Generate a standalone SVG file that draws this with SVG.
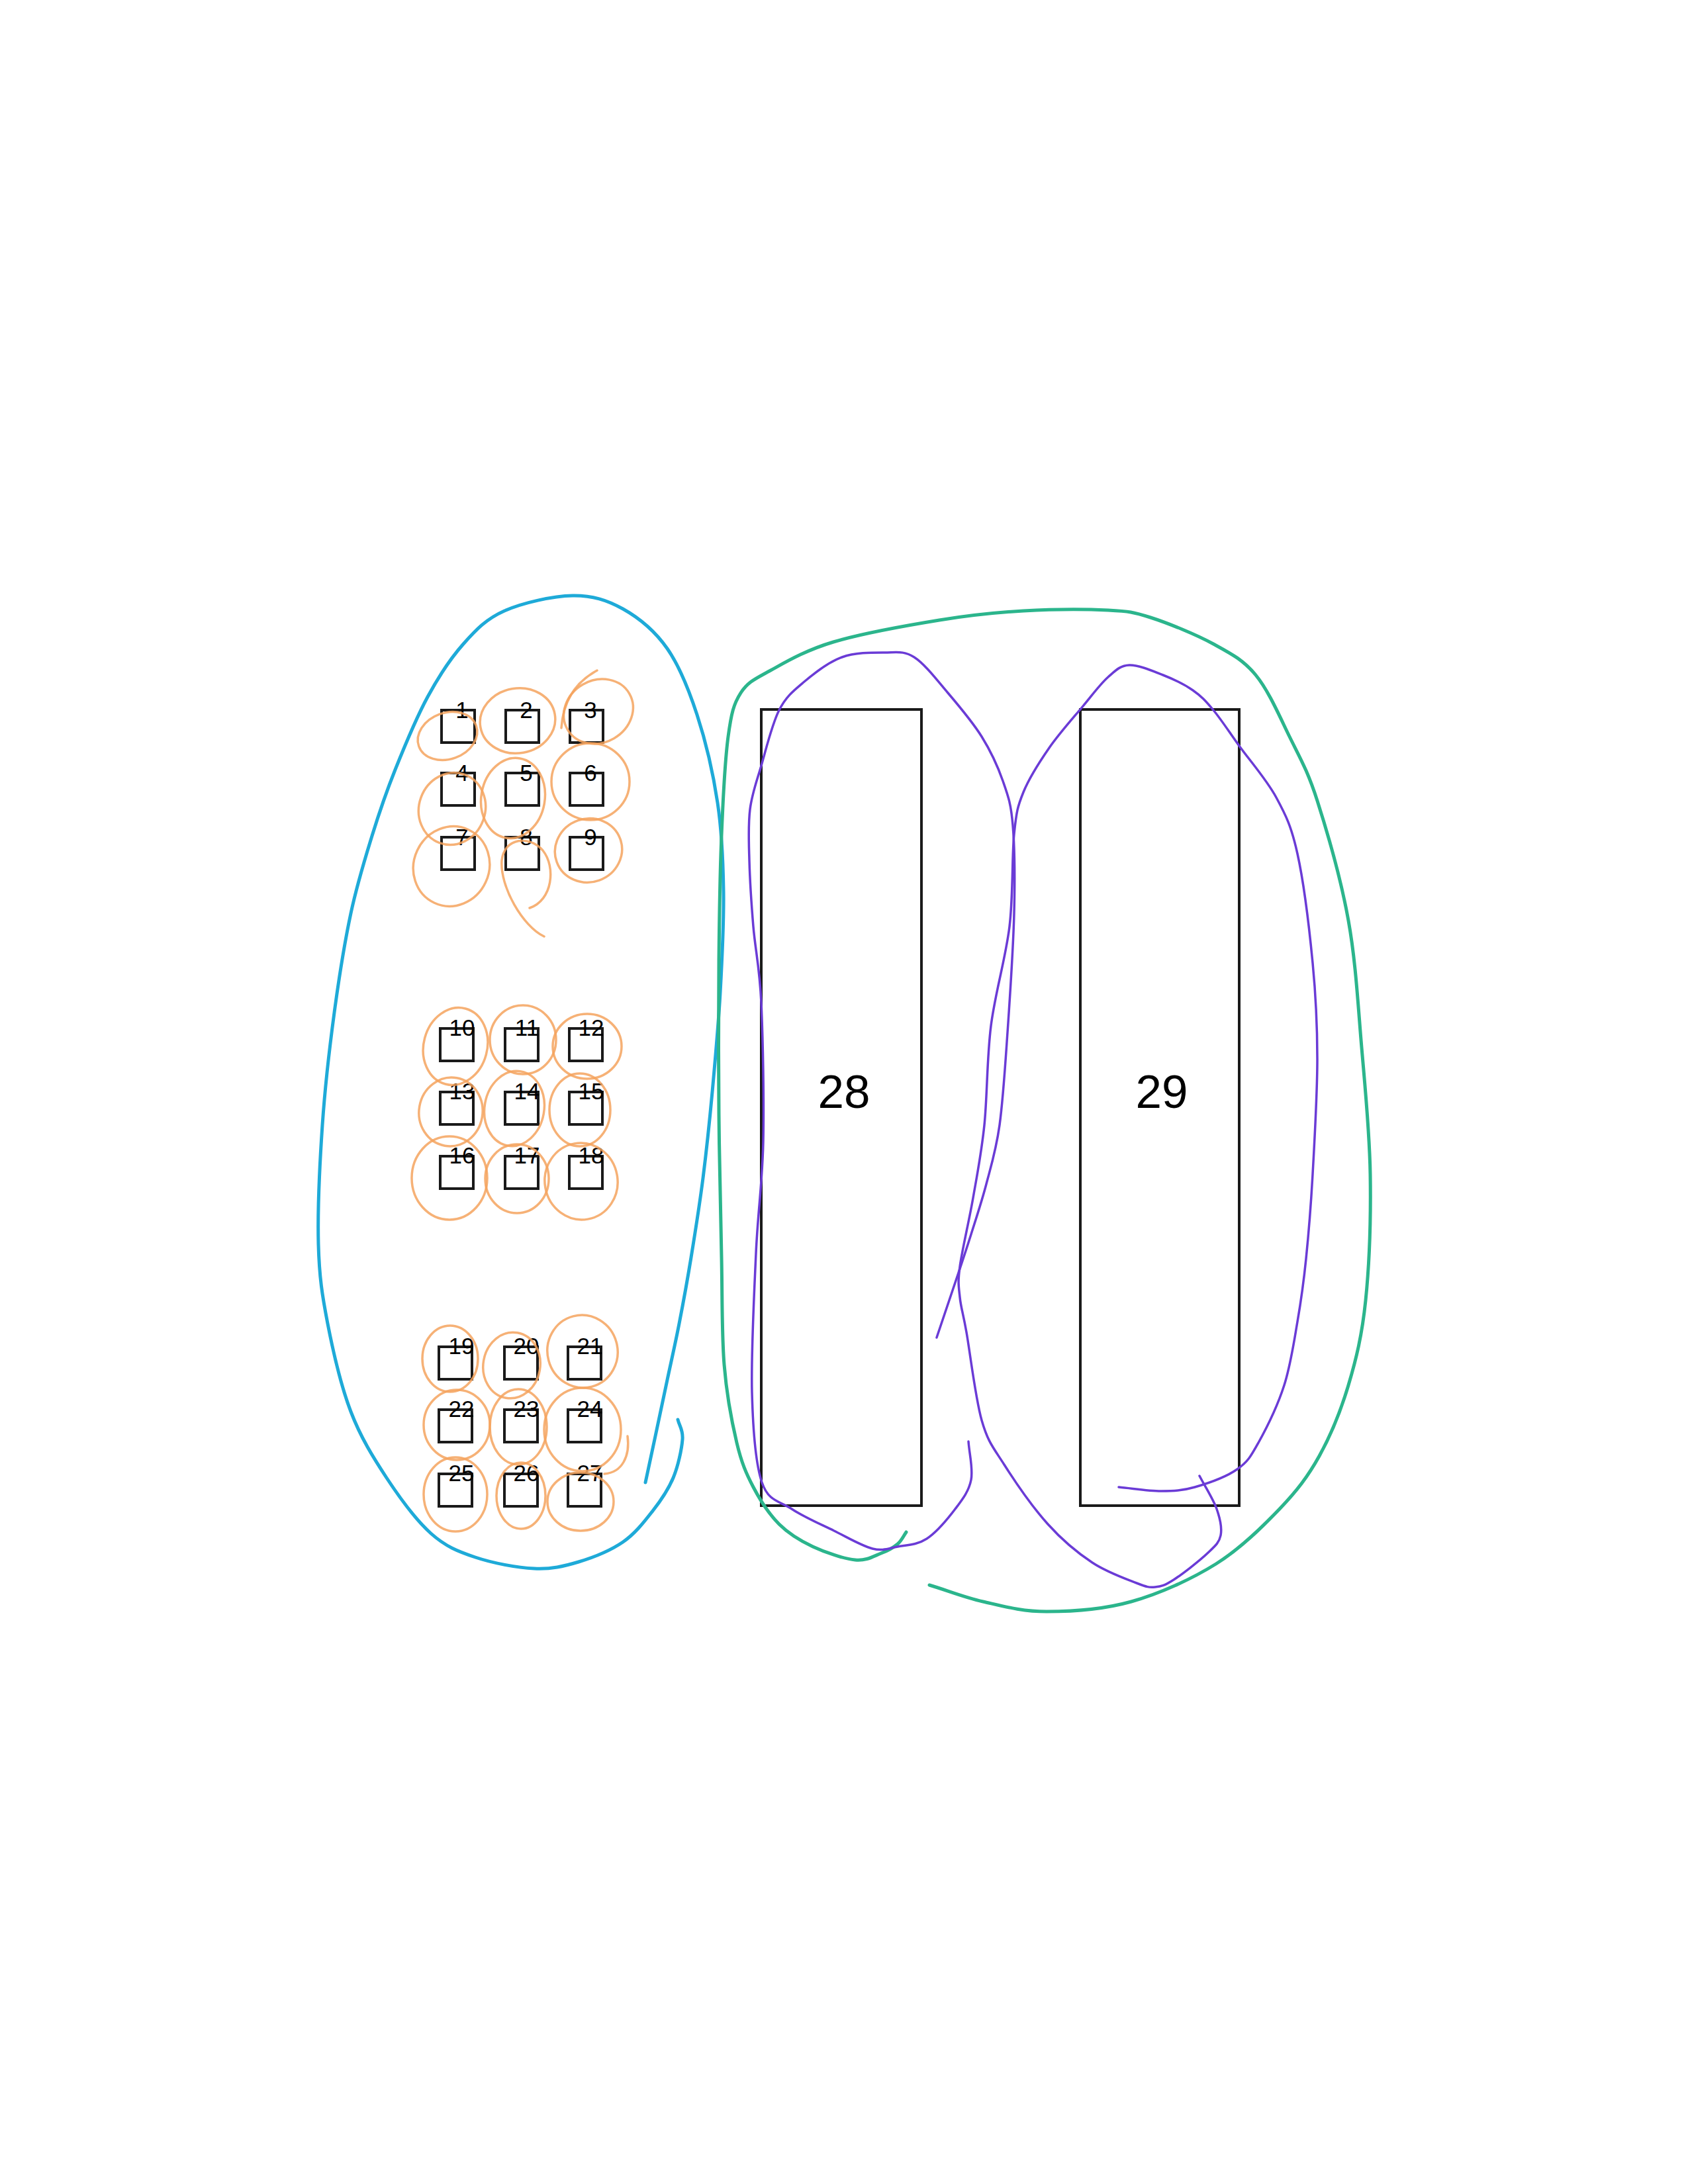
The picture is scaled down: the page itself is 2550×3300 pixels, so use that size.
<svg xmlns="http://www.w3.org/2000/svg" width="2550" height="3300" viewBox="0 0 2550 3300">
<style>
.sq{fill:none;stroke:#1a1a1a;stroke-width:4}
.big{fill:none;stroke:#1a1a1a;stroke-width:4}
.lbl{font-family:"Liberation Sans",Arial,sans-serif;font-size:35px;text-anchor:middle;fill:#000}
.blbl{font-family:"Liberation Sans",Arial,sans-serif;font-size:71px;text-anchor:middle;fill:#000}
.or{fill:none;stroke:#f4a35e;stroke-width:3.5;opacity:0.85;stroke-linecap:round}
.blue{fill:none;stroke:#1eaad8;stroke-width:5;stroke-linecap:round}
.green{fill:none;stroke:#2bb58c;stroke-width:5;stroke-linecap:round}
.purple{fill:none;stroke:#6a3bd6;stroke-width:3.5;stroke-linecap:round}
</style>
<rect width="2550" height="3300" fill="#fff"/>
<g id="node-1"><rect class="sq" x="667" y="1073" width="50" height="49"/><text class="lbl" x="698" y="1085">1</text></g>
<g id="node-2"><rect class="sq" x="764" y="1073" width="50" height="49"/><text class="lbl" x="795" y="1085">2</text></g>
<g id="node-3"><rect class="sq" x="861" y="1073" width="50" height="49"/><text class="lbl" x="892" y="1085">3</text></g>
<g id="node-4"><rect class="sq" x="667" y="1168" width="50" height="49"/><text class="lbl" x="698" y="1180">4</text></g>
<g id="node-5"><rect class="sq" x="764" y="1168" width="50" height="49"/><text class="lbl" x="795" y="1180">5</text></g>
<g id="node-6"><rect class="sq" x="861" y="1168" width="50" height="49"/><text class="lbl" x="892" y="1180">6</text></g>
<g id="node-7"><rect class="sq" x="667" y="1265" width="50" height="49"/><text class="lbl" x="698" y="1277">7</text></g>
<g id="node-8"><rect class="sq" x="764" y="1265" width="50" height="49"/><text class="lbl" x="795" y="1277">8</text></g>
<g id="node-9"><rect class="sq" x="861" y="1265" width="50" height="49"/><text class="lbl" x="892" y="1277">9</text></g>
<g id="node-10"><rect class="sq" x="665" y="1554" width="50" height="49"/><text class="lbl" x="698" y="1565">10</text></g>
<g id="node-11"><rect class="sq" x="763" y="1554" width="50" height="49"/><text class="lbl" x="796" y="1565">11</text></g>
<g id="node-12"><rect class="sq" x="860" y="1554" width="50" height="49"/><text class="lbl" x="893" y="1565">12</text></g>
<g id="node-13"><rect class="sq" x="665" y="1650" width="50" height="49"/><text class="lbl" x="698" y="1661">13</text></g>
<g id="node-14"><rect class="sq" x="763" y="1650" width="50" height="49"/><text class="lbl" x="796" y="1661">14</text></g>
<g id="node-15"><rect class="sq" x="860" y="1650" width="50" height="49"/><text class="lbl" x="893" y="1661">15</text></g>
<g id="node-16"><rect class="sq" x="665" y="1747" width="50" height="49"/><text class="lbl" x="698" y="1758">16</text></g>
<g id="node-17"><rect class="sq" x="763" y="1747" width="50" height="49"/><text class="lbl" x="796" y="1758">17</text></g>
<g id="node-18"><rect class="sq" x="860" y="1747" width="50" height="49"/><text class="lbl" x="893" y="1758">18</text></g>
<g id="node-19"><rect class="sq" x="663" y="2035" width="50" height="49"/><text class="lbl" x="697" y="2046">19</text></g>
<g id="node-20"><rect class="sq" x="762" y="2035" width="50" height="49"/><text class="lbl" x="795" y="2046">20</text></g>
<g id="node-21"><rect class="sq" x="858" y="2035" width="50" height="49"/><text class="lbl" x="891" y="2046">21</text></g>
<g id="node-22"><rect class="sq" x="663" y="2130" width="50" height="49"/><text class="lbl" x="697" y="2141">22</text></g>
<g id="node-23"><rect class="sq" x="762" y="2130" width="50" height="49"/><text class="lbl" x="795" y="2141">23</text></g>
<g id="node-24"><rect class="sq" x="858" y="2130" width="50" height="49"/><text class="lbl" x="891" y="2141">24</text></g>
<g id="node-25"><rect class="sq" x="663" y="2227" width="50" height="49"/><text class="lbl" x="697" y="2238">25</text></g>
<g id="node-26"><rect class="sq" x="762" y="2227" width="50" height="49"/><text class="lbl" x="795" y="2238">26</text></g>
<g id="node-27"><rect class="sq" x="858" y="2227" width="50" height="49"/><text class="lbl" x="891" y="2238">27</text></g>
<g id="node-28"><rect class="big" x="1150" y="1072" width="242" height="1203"/><text class="blbl" x="1275" y="1674">28</text></g>
<g id="node-29"><rect class="big" x="1632" y="1072" width="240" height="1203"/><text class="blbl" x="1755" y="1674">29</text></g>
<g id="marks">
<ellipse class="or" cx="676" cy="1112" rx="46" ry="35" transform="rotate(-20 676 1112)"/>
<ellipse class="or" cx="782" cy="1089" rx="57" ry="49" transform="rotate(-10 782 1089)"/>
<ellipse class="or" cx="904" cy="1075" rx="54" ry="47" transform="rotate(-30 904 1075)"/>
<path class="or" d="M902,1013 Q852,1040 848,1100"/>
<ellipse class="or" cx="683" cy="1222" rx="50" ry="55" transform="rotate(20 683 1222)"/>
<ellipse class="or" cx="775" cy="1206" rx="48" ry="61" transform="rotate(10 775 1206)"/>
<ellipse class="or" cx="892" cy="1181" rx="59" ry="58"/>
<ellipse class="or" cx="682" cy="1309" rx="57" ry="61" transform="rotate(25 682 1309)"/>
<path class="or" d="M822,1415 C790,1400 755,1340 758,1300 C762,1265 800,1262 820,1285 C840,1310 835,1360 800,1372"/>
<ellipse class="or" cx="889" cy="1285" rx="51" ry="48" transform="rotate(-20 889 1285)"/>
<ellipse class="or" cx="688" cy="1581" rx="48" ry="59" transform="rotate(15 688 1581)"/>
<ellipse class="or" cx="790" cy="1571" rx="50" ry="52"/>
<ellipse class="or" cx="887" cy="1581" rx="52" ry="49"/>
<ellipse class="or" cx="681" cy="1680" rx="48" ry="52" transform="rotate(10 681 1680)"/>
<ellipse class="or" cx="777" cy="1675" rx="45" ry="57" transform="rotate(10 777 1675)"/>
<ellipse class="or" cx="876" cy="1677" rx="46" ry="55"/>
<ellipse class="or" cx="679" cy="1780" rx="57" ry="63"/>
<ellipse class="or" cx="781" cy="1781" rx="48" ry="52"/>
<ellipse class="or" cx="878" cy="1785" rx="55" ry="58" transform="rotate(-10 878 1785)"/>
<ellipse class="or" cx="680" cy="2053" rx="42" ry="50"/>
<ellipse class="or" cx="773" cy="2063" rx="43" ry="50" transform="rotate(10 773 2063)"/>
<ellipse class="or" cx="880" cy="2042" rx="53" ry="55" transform="rotate(-15 880 2042)"/>
<ellipse class="or" cx="690" cy="2153" rx="50" ry="53"/>
<ellipse class="or" cx="783" cy="2156" rx="43" ry="57"/>
<ellipse class="or" cx="880" cy="2160" rx="58" ry="63"/>
<path class="or" d="M948,2170 C952,2200 940,2225 913,2227"/>
<ellipse class="or" cx="688" cy="2258" rx="48" ry="56"/>
<ellipse class="or" cx="787" cy="2260" rx="37" ry="50"/>
<ellipse class="or" cx="877" cy="2269" rx="50" ry="44"/>
</g>
<g id="connectors">
<path class="blue" d="M975,2240 C980,2216.7 984.5,2195.8 990,2170 S1002,2113.3 1008,2085 S1020,2030.8 1026,2000 S1038,1936.7 1044,1900 S1056.7,1821.7 1062,1780 S1071.7,1696.7 1076,1650 S1085.2,1550.5 1088,1500 S1093.7,1394.8 1093,1347 S1090.7,1257.5 1084,1213 S1065.7,1118.8 1053,1080 S1026.7,1006.7 1008,980 S964.8,933.3 941,920 S894.8,899.5 865,900 S789.5,910.8 762,923 S719.3,951.3 700,973 S663.2,1021.3 646,1053 S611,1128 597,1163 S573.2,1226.8 562,1263 S539.5,1335.5 530,1380 S512.2,1476.7 505,1530 S491,1641.7 487,1700 S479.7,1830 481,1880 S486.8,1957.8 495,2000 S515.2,2094.2 530,2133 S563.8,2202.3 584,2233 S628.7,2297 651,2317 S692,2344.2 718,2353 S781,2368.8 807,2370 S851.7,2366.7 874,2360 S922.3,2342.8 941,2330 S973.3,2299.2 986,2283 S1009.5,2251 1017,2233 S1029.8,2189.7 1031,2175 S1026.3,2155 1024,2145"/>
<path class="green" d="M1404,2395 C1431,2403 1455.5,2413.3 1485,2420 S1543.7,2435 1581,2435 S1666.3,2432 1709,2420 S1799.7,2386.3 1837,2363 S1907,2307.2 1933,2280 S1975.7,2231.2 1993,2200 S2025.3,2132.2 2037,2093 S2057.5,2018.2 2063,1965 S2071,1837.7 2070,1774 S2062.5,1646.8 2057,1583 S2048.2,1453.2 2037,1391 S2004.8,1256.3 1990,1210 S1963.5,1144.7 1948,1113 S1916.2,1043.3 1897,1020 S1859.5,987.5 1833,973 S1764.5,941.5 1738,933 S1706,923.7 1674,922 S1588.5,920.5 1546,923 S1466.8,929.2 1419,937 S1301.5,957.3 1259,970 S1187.3,1000.2 1164,1013 S1129.7,1030.3 1119,1047 S1104.8,1077.2 1100,1113 S1092.3,1205.8 1090,1262 S1086.7,1379.8 1086,1450 S1085.3,1608 1086,1683 S1088.7,1836.8 1090,1900 S1090.2,2015.3 1094,2062 S1105.7,2149.2 1113,2180 S1127.3,2226.5 1138,2247 S1162,2288 1177,2303 S1208.8,2328 1228,2337 S1274.8,2355.3 1292,2357 S1320.3,2351 1331,2347 S1349.7,2338.3 1356,2333 S1364.7,2321 1369,2315"/>
<path class="purple" d="M1415,2021 C1426,1988.3 1439.3,1949 1448,1923 S1460,1887.3 1467,1865 S1482.8,1816.5 1490,1789 S1504.7,1738.2 1510,1700 S1518.3,1613.3 1522,1560 S1530.7,1432.2 1532,1380 S1532.8,1280.3 1530,1247 S1522.8,1202.3 1515,1180 S1496.8,1135.2 1483,1113 S1449,1067 1432,1047 S1397,1003.2 1381,993 S1354.2,986 1336,986 S1292.2,985.7 1272,993 S1230.8,1016.7 1215,1030 S1187.8,1051.8 1177,1073 S1157.3,1132 1150,1157 S1136,1199.2 1133,1223 S1131.2,1270.5 1132,1300 S1135,1364.2 1138,1400 S1147.5,1460.8 1150,1515 S1154.3,1661.8 1153,1725 S1144.8,1830.8 1142,1894 S1134.5,2046.3 1136,2104 S1141,2210.7 1151,2240 S1177.8,2267.8 1196,2280 S1239.7,2303 1260,2313 S1302,2336 1318,2340 S1342.3,2339.5 1356,2337 S1385.5,2334.5 1400,2325 S1431.8,2294.8 1443,2280 S1463.7,2253 1467,2236 S1464.3,2197.3 1463,2178"/>
<path class="purple" d="M1690,2247 C1711.3,2249 1734.8,2253 1754,2253 S1785.8,2252.5 1805,2247 S1853,2231.2 1869,2220 S1889.2,2201.2 1901,2180 S1930.2,2123.5 1940,2093 S1954.5,2028.8 1960,1997 S1969.2,1939.2 1973,1902 S1980.2,1824.3 1983,1774 S1990,1653.2 1990,1600 S1988,1506.7 1983,1455 S1969.2,1331.7 1960,1290 S1942.7,1232.2 1928,1205 S1887.8,1149 1872,1127 S1844.7,1087 1833,1073 S1814.7,1051.8 1802,1043 S1773,1026.3 1757,1020 S1719.8,1004.5 1706,1005 S1685.7,1012.7 1674,1023 S1650.8,1049.2 1636,1067 S1600,1108.3 1585,1130 S1554.8,1175.3 1546,1197 S1535.5,1226.2 1532,1260 S1530.8,1351.7 1525,1400 S1503.3,1500 1497,1550 S1491.5,1656.7 1487,1700 S1476.2,1774.3 1470,1810 S1453.3,1889 1450,1914 S1448.3,1943.5 1450,1960 S1454.5,1982 1460,2013 S1473.5,2112.7 1483,2146 S1500.3,2186.8 1517,2213 S1560.8,2278.3 1583,2303 S1627.7,2346.2 1650,2361 S1701.2,2385.8 1717,2392 S1735.7,2398.8 1745,2398 S1759.8,2395.5 1773,2387 S1812.2,2358.2 1824,2347 S1841.7,2331.2 1844,2320 S1843.3,2295 1838,2280 S1820.7,2246.7 1812,2230"/>
</g>
</svg>
